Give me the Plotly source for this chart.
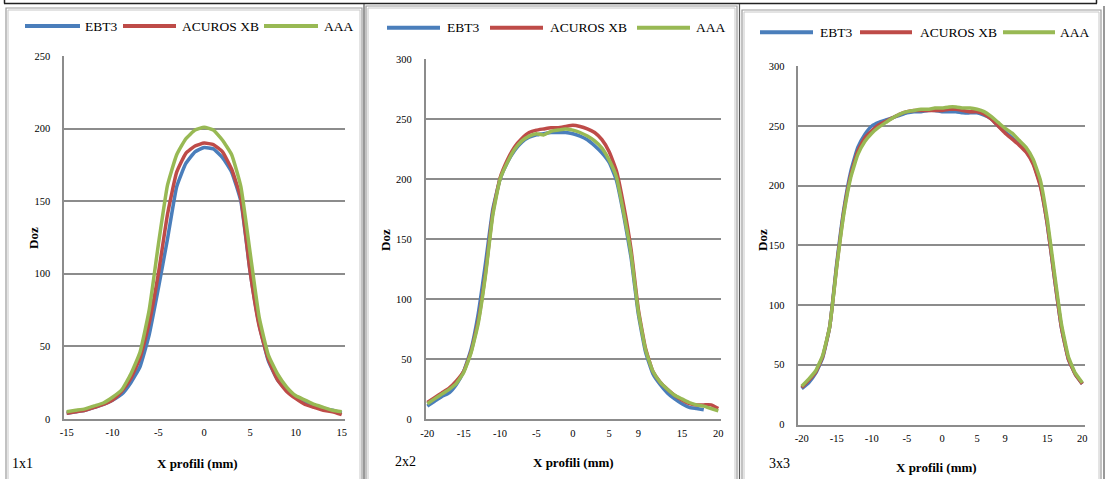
import plotly.graph_objects as go

W, H = 1106, 479

# ---------------- data ----------------
series_names = ["EBT3", "ACUROS XB", "AAA"]
series_colors = ["#4A7EBB", "#BE4B48", "#98B954"]

# 1x1 field
x_1x1 = [-15, -14, -13, -12, -11, -10, -9, -8, -7, -6, -5, -4, -3, -2, -1, 0,
         1, 2, 3, 4, 5, 6, 7, 8, 9, 10, 11, 12, 13, 14, 15]
ebt3_1x1 = [4, 5, 6, 8, 10, 13, 17, 25, 36, 58, 90, 124, 160, 176, 184, 187,
            186, 180, 170, 150, 102, 65, 40, 27, 20, 15, 11, 9, 7, 6, 4]
acuros_1x1 = [4, 5, 6, 8, 10, 13, 19, 28, 42, 66, 100, 141, 170, 183, 188, 190,
              189, 184, 172, 152, 102, 64, 41, 27, 19, 14, 10, 8, 6, 5, 3]
aaa_1x1 = [5, 6, 7, 9, 11, 15, 20, 31, 46, 75, 120, 161, 182, 193, 199, 201,
           199, 192, 182, 160, 115, 70, 44, 31, 22, 16, 13, 10, 8, 6, 5]

# 2x2 field
x_2x2 = [-20, -19, -18, -17, -16, -15, -14, -13, -12, -11, -10, -9, -8, -7, -6, -5,
         -4, -3, -2, -1, 0, 1, 2, 3, 4, 5, 6, 7, 8, 9, 10, 11, 12, 13, 14, 15,
         16, 17, 18, 19, 20]
ebt3_2x2 = [11, 15, 19, 22, 29, 40, 58, 88, 130, 175, 200, 214, 224, 231, 235, 237,
            238, 239, 239, 239, 238, 236, 233, 228, 222, 214, 199, 170, 135, 88, 56, 38,
            29, 22, 17, 13, 10, 9, 8]
acuros_2x2 = [14, 18, 22, 26, 32, 40, 56, 82, 122, 172, 201, 216, 227, 234, 239, 241,
              242, 243, 243, 244, 245, 244, 242, 239, 233, 223, 207, 178, 142, 92, 59, 40,
              31, 25, 20, 16, 13, 12, 12, 12, 9]
aaa_2x2 = [13, 17, 21, 25, 30, 39, 55, 80, 120, 170, 200, 214, 225, 232, 236, 238,
           237, 240, 241, 242, 241, 239, 236, 232, 226, 216, 202, 172, 138, 90, 58, 40,
           31, 25, 20, 17, 14, 12, 11, 9, 7]

# 3x3 field
x_3x3 = [-20, -19, -18, -17, -16, -15, -14, -13, -12, -11, -10, -9, -8, -7, -6, -5,
         -4, -3, -2, -1, 0, 1, 2, 3, 4, 5, 6, 7, 8, 9, 10, 11, 12, 13, 14, 15,
         16, 17, 18, 19, 20]
ebt3_3x3 = [30, 35, 43, 56, 82, 135, 180, 212, 232, 243, 250, 253, 255, 257, 259, 261,
            262, 262, 263, 263, 262, 262, 262, 261, 261, 261, 259, 256, 250, 245, 240, 235,
            229, 219, 201, 168, 124, 82, 55, 42, 34]
acuros_3x3 = [31, 37, 44, 57, 82, 133, 178, 209, 229, 240, 246, 251, 254, 257, 260, 262,
              263, 263, 263, 263, 263, 264, 264, 263, 262, 262, 260, 256, 250, 244, 239, 234,
              228, 218, 200, 168, 124, 82, 55, 42, 34]
aaa_3x3 = [32, 38, 45, 58, 82, 132, 176, 207, 226, 237, 244, 249, 253, 257, 260, 262,
           263, 264, 264, 265, 265, 266, 266, 265, 265, 264, 262, 258, 253, 248, 244, 238,
           232, 222, 205, 172, 128, 85, 57, 43, 35]

xticks_1x1 = [-15, -10, -5, 0, 5, 10, 15]
xticks_wide = [-20, -15, -10, -5, 0, 5, 9, 15, 20]
yticks_1x1 = [0, 50, 100, 150, 200, 250]
yticks_wide = [0, 50, 100, 150, 200, 250, 300]
panel_labels = ["1x1", "2x2", "3x3"]
x_title = "X profili (mm)"
y_title = "Doz"

# ---------------- helpers ----------------
def px(x):
    return x / W

def py(y):
    return 1 - y / H

panels = [
    dict(x=x_1x1, ys=[ebt3_1x1, acuros_1x1, aaa_1x1], xt=xticks_1x1, yt=yticks_1x1,
         dom_x=(64, 345), dom_y=(419, 56), xr=[-15.29, 15.36], yr=[0, 250],
         leg_y=26, leg=[(25, 80, 83), (123, 176, 180), (264, 318, 322)],
         ytitle=(33, 238), xtitle=(198, 463), label=(10, 463), frame=(6, 8, 362)),
    dict(x=x_2x2, ys=[ebt3_2x2, acuros_2x2, aaa_2x2], xt=xticks_wide, yt=yticks_wide,
         dom_x=(425.7, 721), dom_y=(419.3, 59.3), xr=[-20.22, 20.37], yr=[0, 300],
         leg_y=27.7, leg=[(387, 440, 445), (490, 543, 548), (637, 690, 694)],
         ytitle=(385, 240), xtitle=(573, 462), label=(393, 461), frame=(366, 6, 737)),
    dict(x=x_3x3, ys=[ebt3_3x3, acuros_3x3, aaa_3x3], xt=xticks_wide, yt=yticks_wide,
         dom_x=(798.3, 1085), dom_y=(424.5, 66.3), xr=[-20.48, 20.38], yr=[0, 300],
         leg_y=32.3, leg=[(760, 813, 818), (860, 912, 918), (1003, 1055, 1058)],
         ytitle=(762, 240), xtitle=(937, 467), label=(767, 463), frame=(742, 10, 1101)),
]

FONT = "Liberation Serif, Times New Roman, serif"
GRID = "#8C8C8C"

fig = go.Figure()
shapes = []
annotations = []

for i, p in enumerate(panels):
    k = "" if i == 0 else str(i + 1)
    for s in range(3):
        fig.add_trace(go.Scatter(
            x=p["x"][:len(p["ys"][s])], y=p["ys"][s], mode="lines",
            name=series_names[s], showlegend=False,
            line=dict(color=series_colors[s], width=3.5, shape="spline", smoothing=0.4),
            xaxis="x" + k, yaxis="y" + k,
        ))
    fig.layout["xaxis" + k] = dict(
        domain=[px(p["dom_x"][0]), px(p["dom_x"][1])], range=p["xr"], anchor="y" + k,
        tickvals=p["xt"], ticktext=[str(v) for v in p["xt"]], automargin=False,
        showgrid=False, zeroline=False, showline=True, linecolor=GRID, linewidth=1.5,
        ticks="", ticklabelstandoff=3,
        tickfont=dict(family=FONT, size=10.5, color="#000"),
    )
    fig.layout["yaxis" + k] = dict(
        domain=[py(p["dom_y"][0]), py(p["dom_y"][1])], range=p["yr"], anchor="x" + k,
        tickvals=p["yt"], showgrid=True, gridcolor=GRID, gridwidth=1.5, automargin=False,
        zeroline=False, showline=True, linecolor=GRID, linewidth=1.5,
        ticks="", ticklabelstandoff=10,
        tickfont=dict(family=FONT, size=10.5, color="#000"),
    )
    # legend (custom, drawn in paper space)
    for s in range(3):
        x0, x1, xt = p["leg"][s]
        shapes.append(dict(type="line", xref="paper", yref="paper",
                           x0=px(x0), x1=px(x1), y0=py(p["leg_y"]), y1=py(p["leg_y"]),
                           line=dict(color=series_colors[s], width=4)))
        annotations.append(dict(xref="paper", yref="paper", x=px(xt), y=py(p["leg_y"]),
                                text=series_names[s], showarrow=False, xanchor="left",
                                yanchor="middle",
                                font=dict(family=FONT, size=13.5, color="#000")))
    # axis titles
    annotations.append(dict(xref="paper", yref="paper", x=px(p["ytitle"][0]), y=py(p["ytitle"][1]),
                            text="<b>%s</b>" % y_title, textangle=-90, showarrow=False,
                            xanchor="center", yanchor="middle",
                            font=dict(family=FONT, size=13, color="#000")))
    annotations.append(dict(xref="paper", yref="paper", x=px(p["xtitle"][0]), y=py(p["xtitle"][1]),
                            text="<b>%s</b>" % x_title, showarrow=False,
                            xanchor="center", yanchor="middle",
                            font=dict(family=FONT, size=13, color="#000")))
    annotations.append(dict(xref="paper", yref="paper", x=px(p["label"][0]), y=py(p["label"][1]),
                            text=panel_labels[i], showarrow=False,
                            xanchor="left", yanchor="middle",
                            font=dict(family=FONT, size=14, color="#000")))
    # panel frame (double grey border)
    fx0, fy0, fx1 = p["frame"]
    shapes.append(dict(type="rect", xref="paper", yref="paper",
                       x0=px(fx0), x1=px(fx1), y0=py(490), y1=py(fy0),
                       line=dict(color="#9A9A9A", width=1.2)))
    shapes.append(dict(type="rect", xref="paper", yref="paper",
                       x0=px(fx0 + 2), x1=px(fx1 - 2), y0=py(490), y1=py(fy0 + 2),
                       line=dict(color="#C8C8C8", width=1)))

# outer table lines
shapes.append(dict(type="line", xref="paper", yref="paper", x0=px(4), x1=px(1097),
                   y0=py(3.5), y1=py(3.5), line=dict(color="#222", width=1.5)))
shapes.append(dict(type="line", xref="paper", yref="paper", x0=px(4.5), x1=px(4.5),
                   y0=py(-5), y1=py(3.5), line=dict(color="#222", width=1.5)))
shapes.append(dict(type="line", xref="paper", yref="paper", x0=px(1096.5), x1=px(1096.5),
                   y0=py(-5), y1=py(3.5), line=dict(color="#222", width=1.5)))
for xl in (364, 739.5):
    shapes.append(dict(type="line", xref="paper", yref="paper", x0=px(xl), x1=px(xl),
                       y0=py(4), y1=py(490), line=dict(color="#555", width=1.2)))
shapes.append(dict(type="line", xref="paper", yref="paper", x0=px(1104), x1=px(1104),
                   y0=py(6), y1=py(490), line=dict(color="#555", width=1.2)))

fig.update_layout(
    width=W, height=H, margin=dict(l=0, r=0, t=0, b=0, autoexpand=False),
    paper_bgcolor="white", plot_bgcolor="white",
    showlegend=False, shapes=shapes, annotations=annotations,
    font=dict(family=FONT, color="#000"),
)

fig.write_html(
    "out.html",
    config={"displayModeBar": False},
    post_script="document.body.style.margin='0';document.body.style.overflow='hidden';",
)
